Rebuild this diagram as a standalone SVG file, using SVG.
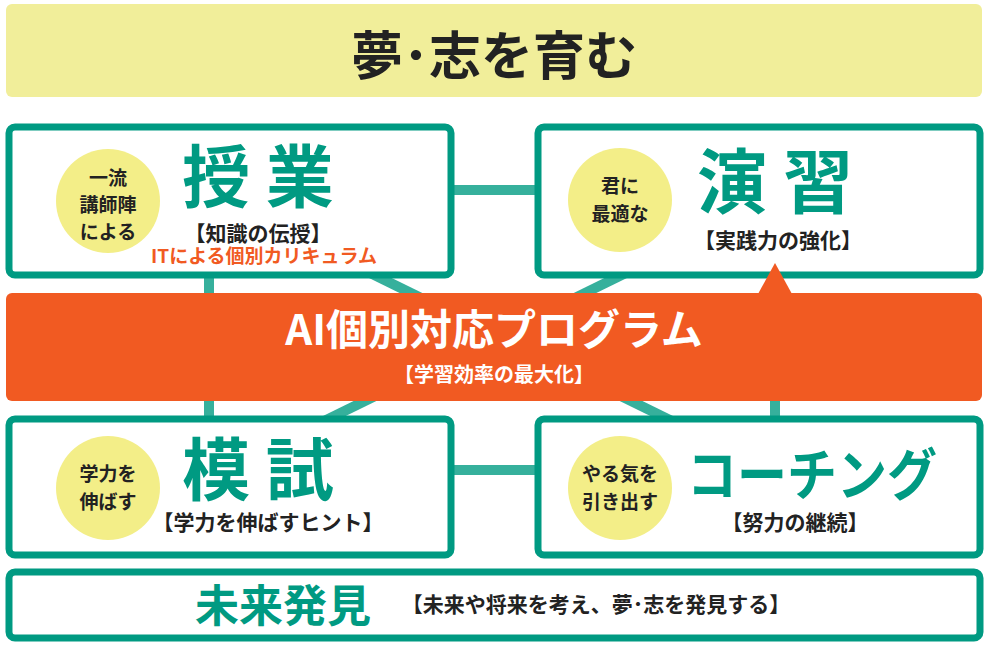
<svg xmlns="http://www.w3.org/2000/svg" width="992" height="649" viewBox="0 0 992 649">
<style>
text{font-family:"Noto Sans CJK JP","Noto Sans",sans-serif;font-weight:bold;text-anchor:middle}
.box{fill:#fff;stroke:#009a82;stroke-width:7}
.circ{fill:#f3ee88}
.big{fill:#009a82}
.sm{font-size:19px;fill:#222}
.sub{font-size:21px;fill:#222}
.ln{stroke:#36b09c;stroke-width:10;fill:none}
</style>
<rect x="6" y="4" width="976" height="93" rx="6" fill="#f1ee9a"/>
<text x="494" y="75" font-size="52" fill="#222">夢･志を育む</text>
<g id="connectors">
<line class="ln" x1="452" y1="190" x2="536" y2="190"/>
<line class="ln" x1="452" y1="470" x2="536" y2="470"/>
<line class="ln" x1="209" y1="270" x2="209" y2="425"/>
<line class="ln" x1="775" y1="270" x2="775" y2="425"/>
<line class="ln" x1="360" y1="268" x2="680" y2="425"/>
<line class="ln" x1="636" y1="268" x2="316" y2="425"/>
</g>
<g id="jugyo">
<rect class="box" x="9" y="127" width="442" height="148" rx="6"/>
<circle class="circ" cx="108" cy="201" r="52"/>
<text class="sm" x="108" y="185">一流</text>
<text class="sm" x="108" y="212">講師陣</text>
<text class="sm" x="108" y="239">による</text>
<text class="big" x="258" y="202" font-size="68">授 業</text>
<text class="sub" x="258" y="241">【知識の伝授】</text>
<text x="264" y="263" font-size="19" fill="#f15a22" font-weight="normal">ITによる個別カリキュラム</text>
</g>
<g id="enshu">
<rect class="box" x="538" y="127" width="442" height="148" rx="6"/>
<circle class="circ" cx="620" cy="200" r="52"/>
<text class="sm" x="620" y="193">君に</text>
<text class="sm" x="620" y="221">最適な</text>
<text class="big" x="775" y="208" font-size="70">演 習</text>
<text class="sub" x="778" y="248">【実践力の強化】</text>
</g>
<g id="ai">
<polygon points="758,294 775,263 792,294" fill="#f15a22"/>
<rect x="6" y="293" width="976" height="108" rx="6" fill="#f15a22"/>
<text x="494" y="345" font-size="42" fill="#fff" font-weight="normal">AI個別対応プログラム</text>
<text x="494" y="382" font-size="20" fill="#fff" font-weight="normal">【学習効率の最大化】</text>
</g>
<g id="moshi">
<rect class="box" x="9" y="419" width="442" height="136" rx="6"/>
<circle class="circ" cx="108" cy="488" r="52"/>
<text class="sm" x="108" y="481">学力を</text>
<text class="sm" x="108" y="509">伸ばす</text>
<text class="big" x="258" y="495" font-size="68">模 試</text>
<text class="sub" x="268" y="530">【学力を伸ばすヒント】</text>
</g>
<g id="coaching">
<rect class="box" x="538" y="419" width="442" height="136" rx="6"/>
<circle class="circ" cx="620" cy="488" r="52"/>
<text class="sm" x="620" y="481">やる気を</text>
<text class="sm" x="620" y="509">引き出す</text>
<text class="big" x="812" y="495" font-size="56" textLength="250" lengthAdjust="spacingAndGlyphs">コーチング</text>
<text class="sub" x="795" y="530">【努力の継続】</text>
</g>
<g id="mirai">
<rect class="box" x="9" y="572" width="971" height="66" rx="6"/>
<text class="big" x="283" y="622" font-size="44">未来発見</text>
<text class="sub" x="596" y="612">【未来や将来を考え、夢･志を発見する】</text>
</g>
</svg>
